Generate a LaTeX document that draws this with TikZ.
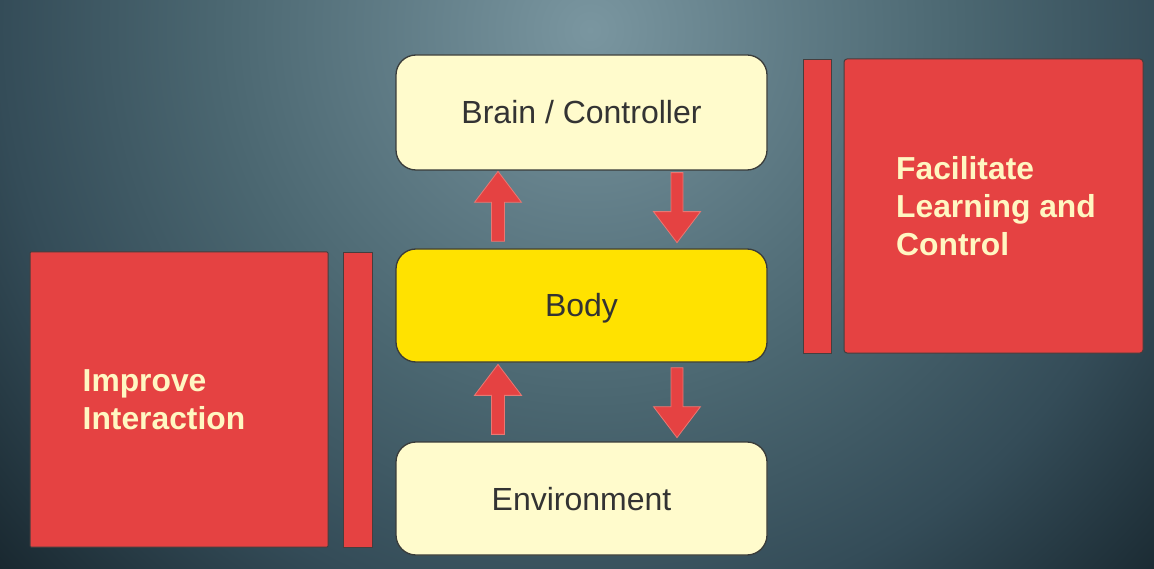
\documentclass[tikz,border=0pt]{standalone}
\usepackage{fontspec}
\setmainfont{Liberation Sans}
\usetikzlibrary{calc}
\definecolor{cream}{RGB}{255,251,204}
\definecolor{bodyyellow}{RGB}{255,226,0}
\definecolor{boxedge}{RGB}{58,60,58}
\definecolor{textgray}{RGB}{51,51,51}
\definecolor{boxred}{RGB}{229,66,66}
\definecolor{rededge}{RGB}{70,62,62}
\definecolor{labelcream}{RGB}{255,247,194}
\definecolor{arrowred}{RGB}{229,66,66}
\definecolor{arrowedge}{RGB}{232,120,115}
\pgfdeclareradialshading{bgshade}{\pgfpoint{0bp}{0bp}}{rgb(0bp)=(0.478,0.588,0.627); rgb(5.6bp)=(0.38,0.49,0.53); rgb(10.9bp)=(0.294,0.404,0.443); rgb(17.4bp)=(0.204,0.298,0.345); rgb(23.5bp)=(0.098,0.157,0.188); rgb(50bp)=(0.098,0.157,0.188)}
\tikzset{
  creambox/.style={draw=boxedge, line width=1.3pt, fill=cream, rounded corners=20pt,
    minimum width=371pt, minimum height=114pt, text=textgray,
    font=\fontsize{32}{38}\selectfont, inner sep=0pt, text height=23pt, text depth=0pt},
  bodybox/.style={creambox, fill=bodyyellow},
  redbox/.style={draw=rededge, line width=1pt, fill=boxred, inner sep=0pt},
  redlabel/.style={text=labelcream, font=\fontsize{31.8}{37.8}\selectfont\bfseries, align=left, inner sep=0pt},
  arrowshape/.style={fill=arrowred, draw=arrowedge, line width=0.8pt, line join=miter},
  pics/uparrow/.style={code={\path[arrowshape] (-6.5,0) -- (-6.5,-39) -- (-23.5,-39) -- (0,-70) -- (23.5,-39) -- (6.5,-39) -- (6.5,0) -- cycle;}},
  pics/downarrow/.style={code={\path[arrowshape] (-6,0) -- (-6,39) -- (-23.5,39) -- (0,70) -- (23.5,39) -- (6,39) -- (6,0) -- cycle;}}
}
\begin{document}
\begin{tikzpicture}[x=1pt,y=-1pt]
\useasboundingbox (0,0) rectangle (1154,569);
\begin{scope}
  \clip (0,0) rectangle (1154,569);
  \shade[shading=bgshade] (590,30) circle (850pt);
\end{scope}

% central column
\node[creambox, minimum height=115pt] (brain) at (581.5,112.5) {Brain / Controller};
\node[bodybox, minimum height=113pt] (body) at (581.5,305.5) {Body};
\node[creambox, minimum height=113pt] (env) at (581.5,498.5) {Environment};

% arrows
\pic at ($(body.north)+(-83.5,-7)$) {uparrow};
\pic at ($(brain.south)+(95.5,2)$) {downarrow};
\pic at ($(env.north)+(-83.5,-7)$) {uparrow};
\pic at ($(body.south)+(95.5,5)$) {downarrow};

% right red block
\node[redbox, minimum width=28pt, minimum height=293pt] (learnbar) at (817,206.5) {};
\node[redbox, rounded corners=3pt, minimum width=299pt, minimum height=294pt] (learnbox) at (993.5,206) {};
\node[redlabel] (learntext) at ($(learnbox.center)+(2.5,0)$) {Facilitate\\Learning and\\Control};

% left red block
\node[redbox, rounded corners=1pt, minimum width=298pt, minimum height=295pt] (interbox) at (179,399.5) {};
\node[redbox, minimum width=29pt, minimum height=294pt] (interbar) at (357.5,400) {};
\node[redlabel, anchor=west] (intertext) at ($(interbox.west)+(53,0)$) {Improve\\Interaction};
\end{tikzpicture}
\end{document}
